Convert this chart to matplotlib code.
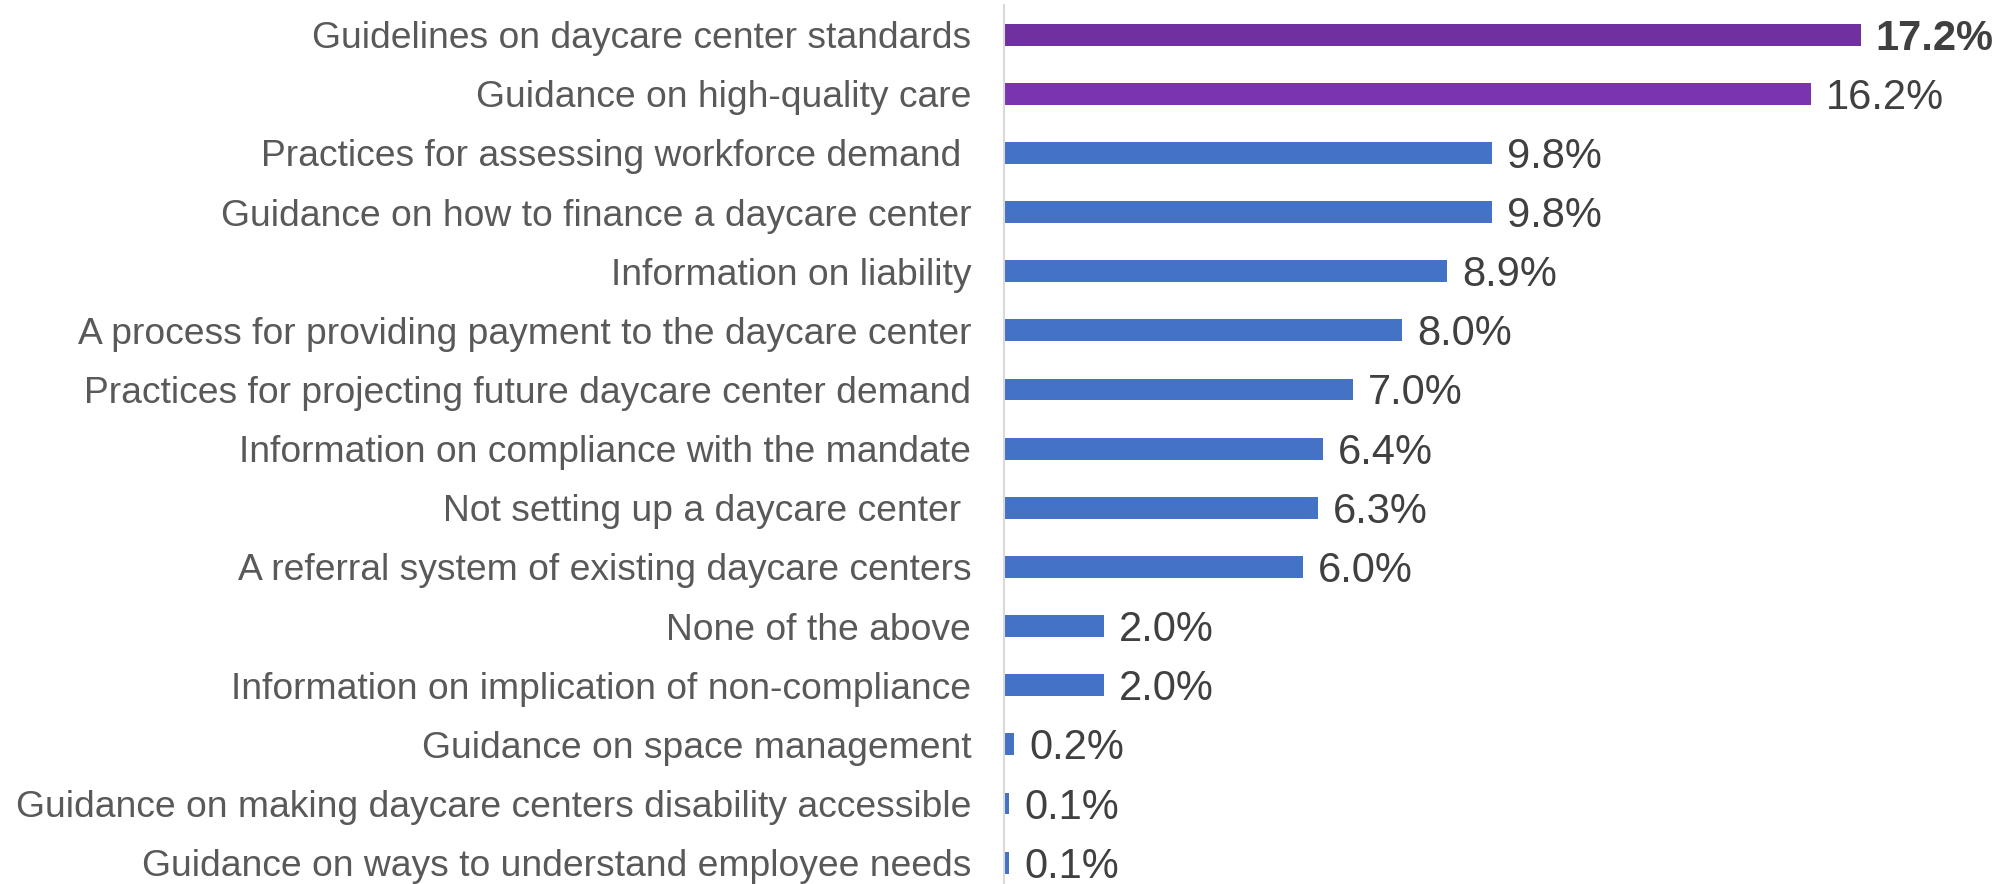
import matplotlib
matplotlib.use("Agg")
import matplotlib.pyplot as plt
import matplotlib.transforms as mtransforms

categories = [
    "Guidelines on daycare center standards",
    "Guidance on high-quality care",
    "Practices for assessing workforce demand ",
    "Guidance on how to finance a daycare center",
    "Information on liability",
    "A process for providing payment to the daycare center",
    "Practices for projecting future daycare center demand",
    "Information on compliance with the mandate",
    "Not setting up a daycare center ",
    "A referral system of existing daycare centers",
    "None of the above",
    "Information on implication of non-compliance",
    "Guidance on space management",
    "Guidance on making daycare centers disability accessible",
    "Guidance on ways to understand employee needs",
]
values = [17.2, 16.2, 9.8, 9.8, 8.9, 8.0, 7.0, 6.4, 6.3, 6.0, 2.0, 2.0, 0.2, 0.1, 0.1]
value_labels = ["17.2%", "16.2%", "9.8%", "9.8%", "8.9%", "8.0%", "7.0%", "6.4%",
                "6.3%", "6.0%", "2.0%", "2.0%", "0.2%", "0.1%", "0.1%"]

colors = ["#7030A0", "#7A35AE"] + ["#4472C4"] * (len(values) - 2)

plt.rcParams['font.family'] = ['Liberation Sans', 'DejaVu Sans']

fig = plt.figure(figsize=(20.16, 8.84), dpi=100)
ax = fig.add_axes([1004 / 2016, 0.0, 996 / 2016, 879 / 884])

y = list(range(len(categories)))
ax.barh(y, values, height=0.37, color=colors)
ax.set_xlim(0, 20)
ax.set_ylim(14.36, -0.5)

ax.set_yticks(y)
ax.set_yticklabels(categories, fontsize=26.8, color="#595959")
ax.tick_params(axis='y', length=0, pad=23.6)
ax.set_xticks([])

for s in ["top", "right", "bottom"]:
    ax.spines[s].set_visible(False)
ax.spines["left"].set_color("#D9D9D9")
ax.spines["left"].set_linewidth(1.5)

offset = mtransforms.ScaledTranslation(0, -4 / 100, fig.dpi_scale_trans)
for i, (v, lab) in enumerate(zip(values, value_labels)):
    ax.text(v + 0.3, i, lab, va="center", ha="left", fontsize=30,
            color="#404040", fontweight="bold" if i == 0 else "normal",
            transform=ax.transData + offset)

fig.savefig("out.png", dpi=100)
